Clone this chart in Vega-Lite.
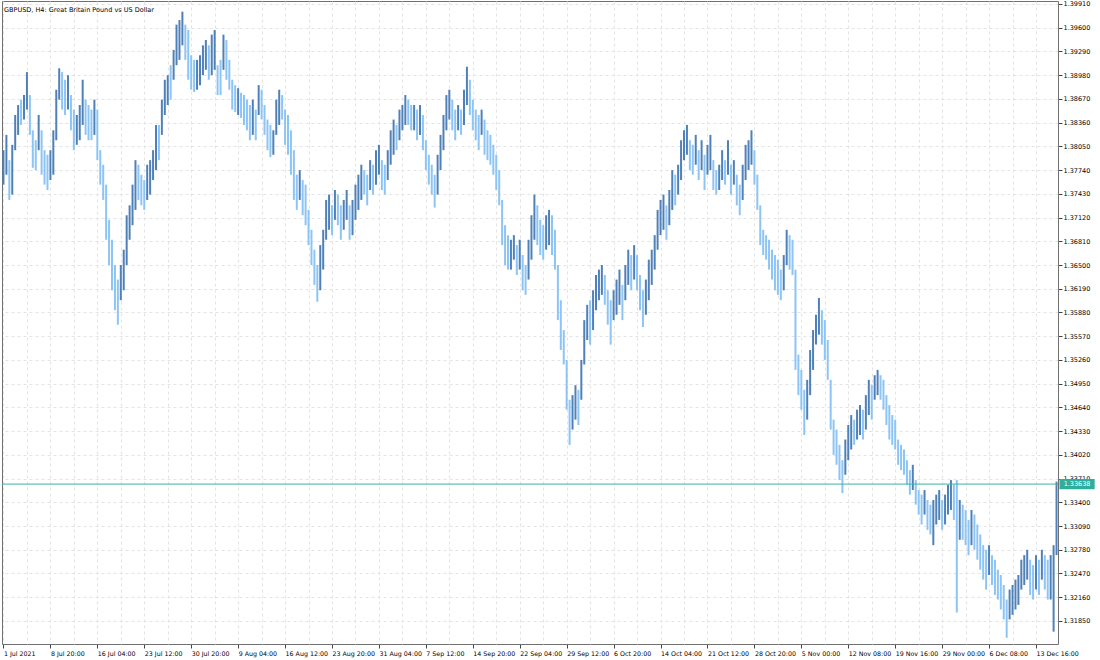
{
"$schema": "https://vega.github.io/schema/vega-lite/v6.json",
"width": 1056, "height": 643,
"autosize": {"type": "none"},
"padding": {"left": 2, "top": 1, "right": 42, "bottom": 16},
"background": "white",
"config": {"view": {"stroke": "#707070", "strokeWidth": 1}, "font": "DejaVu Sans", "axis": {"labelOverlap": false, "labelBound": false, "labelFlush": false}},
"title": {"text": "GBPUSD, H4:  Great Britain Pound vs US Dollar", "anchor": "start", "frame": "group", "orient": "top", "offset": -9, "dy": 10, "baseline": "bottom", "font": "DejaVu Sans", "fontSize": 6.5, "fontWeight": "normal", "color": "#000000", "dx": 2},
"datasets": {
"bars": [
{"i":0,"h":1.3800,"l":1.3755,"up":1},{"i":1,"h":1.3820,"l":1.3768,"up":1},{"i":2,"h":1.3787,"l":1.3735,"up":0},{"i":3,"h":1.3807,"l":1.3742,"up":1},{"i":4,"h":1.3846,"l":1.3800,"up":1},{"i":5,"h":1.3859,"l":1.3820,"up":1},{"i":6,"h":1.3866,"l":1.3833,"up":0},{"i":7,"h":1.3872,"l":1.3840,"up":1},{"i":8,"h":1.3902,"l":1.3853,"up":1},{"i":9,"h":1.3872,"l":1.3820,"up":0},
{"i":10,"h":1.3826,"l":1.3777,"up":0},{"i":11,"h":1.3813,"l":1.3774,"up":0},{"i":12,"h":1.3846,"l":1.3800,"up":1},{"i":13,"h":1.3826,"l":1.3768,"up":0},{"i":14,"h":1.3800,"l":1.3755,"up":0},{"i":15,"h":1.3794,"l":1.3748,"up":0},{"i":16,"h":1.3800,"l":1.3761,"up":1},{"i":17,"h":1.3826,"l":1.3768,"up":1},{"i":18,"h":1.3879,"l":1.3813,"up":1},{"i":19,"h":1.3907,"l":1.3866,"up":1},
{"i":20,"h":1.3902,"l":1.3853,"up":0},{"i":21,"h":1.3892,"l":1.3846,"up":0},{"i":22,"h":1.3898,"l":1.3853,"up":1},{"i":23,"h":1.3872,"l":1.3826,"up":0},{"i":24,"h":1.3853,"l":1.3800,"up":0},{"i":25,"h":1.3846,"l":1.3807,"up":1},{"i":26,"h":1.3859,"l":1.3813,"up":1},{"i":27,"h":1.3892,"l":1.3833,"up":1},{"i":28,"h":1.3866,"l":1.3820,"up":0},{"i":29,"h":1.3859,"l":1.3813,"up":0},
{"i":30,"h":1.3853,"l":1.3813,"up":0},{"i":31,"h":1.3866,"l":1.3820,"up":1},{"i":32,"h":1.3853,"l":1.3787,"up":0},{"i":33,"h":1.3800,"l":1.3755,"up":0},{"i":34,"h":1.3781,"l":1.3735,"up":0},{"i":35,"h":1.3755,"l":1.3683,"up":0},{"i":36,"h":1.3709,"l":1.3650,"up":0},{"i":37,"h":1.3683,"l":1.3617,"up":0},{"i":38,"h":1.3650,"l":1.3591,"up":0},{"i":39,"h":1.3631,"l":1.3572,"up":0},
{"i":40,"h":1.3650,"l":1.3604,"up":1},{"i":41,"h":1.3670,"l":1.3617,"up":1},{"i":42,"h":1.3715,"l":1.3650,"up":1},{"i":43,"h":1.3728,"l":1.3683,"up":1},{"i":44,"h":1.3755,"l":1.3702,"up":1},{"i":45,"h":1.3787,"l":1.3722,"up":1},{"i":46,"h":1.3781,"l":1.3735,"up":0},{"i":47,"h":1.3768,"l":1.3728,"up":0},{"i":48,"h":1.3761,"l":1.3722,"up":0},{"i":49,"h":1.3781,"l":1.3735,"up":1},
{"i":50,"h":1.3787,"l":1.3742,"up":1},{"i":51,"h":1.3800,"l":1.3761,"up":1},{"i":52,"h":1.3833,"l":1.3774,"up":1},{"i":53,"h":1.3833,"l":1.3787,"up":0},{"i":54,"h":1.3866,"l":1.3820,"up":1},{"i":55,"h":1.3892,"l":1.3846,"up":1},{"i":56,"h":1.3898,"l":1.3859,"up":1},{"i":57,"h":1.3911,"l":1.3866,"up":0},{"i":58,"h":1.3931,"l":1.3892,"up":1},{"i":59,"h":1.3964,"l":1.3911,"up":1},
{"i":60,"h":1.3970,"l":1.3918,"up":1},{"i":61,"h":1.3981,"l":1.3937,"up":1},{"i":62,"h":1.3964,"l":1.3918,"up":0},{"i":63,"h":1.3957,"l":1.3892,"up":0},{"i":64,"h":1.3924,"l":1.3879,"up":0},{"i":65,"h":1.3918,"l":1.3876,"up":0},{"i":66,"h":1.3918,"l":1.3879,"up":1},{"i":67,"h":1.3924,"l":1.3885,"up":1},{"i":68,"h":1.3937,"l":1.3898,"up":1},{"i":69,"h":1.3944,"l":1.3905,"up":1},
{"i":70,"h":1.3937,"l":1.3892,"up":0},{"i":71,"h":1.3951,"l":1.3898,"up":1},{"i":72,"h":1.3957,"l":1.3905,"up":1},{"i":73,"h":1.3911,"l":1.3872,"up":0},{"i":74,"h":1.3918,"l":1.3872,"up":0},{"i":75,"h":1.3951,"l":1.3905,"up":1},{"i":76,"h":1.3944,"l":1.3892,"up":0},{"i":77,"h":1.3918,"l":1.3879,"up":0},{"i":78,"h":1.3892,"l":1.3853,"up":0},{"i":79,"h":1.3885,"l":1.3850,"up":0},
{"i":80,"h":1.3881,"l":1.3846,"up":1},{"i":81,"h":1.3875,"l":1.3842,"up":0},{"i":82,"h":1.3872,"l":1.3833,"up":0},{"i":83,"h":1.3866,"l":1.3826,"up":0},{"i":84,"h":1.3859,"l":1.3813,"up":0},{"i":85,"h":1.3866,"l":1.3820,"up":1},{"i":86,"h":1.3853,"l":1.3813,"up":0},{"i":87,"h":1.3885,"l":1.3846,"up":1},{"i":88,"h":1.3879,"l":1.3840,"up":0},{"i":89,"h":1.3859,"l":1.3820,"up":0},
{"i":90,"h":1.3840,"l":1.3800,"up":0},{"i":91,"h":1.3833,"l":1.3791,"up":0},{"i":92,"h":1.3826,"l":1.3794,"up":1},{"i":93,"h":1.3866,"l":1.3820,"up":1},{"i":94,"h":1.3879,"l":1.3833,"up":1},{"i":95,"h":1.3872,"l":1.3840,"up":0},{"i":96,"h":1.3853,"l":1.3807,"up":0},{"i":97,"h":1.3846,"l":1.3794,"up":0},{"i":98,"h":1.3826,"l":1.3768,"up":0},{"i":99,"h":1.3800,"l":1.3735,"up":0},
{"i":100,"h":1.3768,"l":1.3722,"up":0},{"i":101,"h":1.3774,"l":1.3735,"up":1},{"i":102,"h":1.3761,"l":1.3715,"up":0},{"i":103,"h":1.3755,"l":1.3702,"up":0},{"i":104,"h":1.3722,"l":1.3676,"up":0},{"i":105,"h":1.3696,"l":1.3650,"up":0},{"i":106,"h":1.3670,"l":1.3624,"up":0},{"i":107,"h":1.3650,"l":1.3602,"up":0},{"i":108,"h":1.3676,"l":1.3617,"up":1},{"i":109,"h":1.3696,"l":1.3644,"up":1},
{"i":110,"h":1.3735,"l":1.3683,"up":1},{"i":111,"h":1.3742,"l":1.3696,"up":1},{"i":112,"h":1.3728,"l":1.3689,"up":0},{"i":113,"h":1.3748,"l":1.3709,"up":1},{"i":114,"h":1.3742,"l":1.3702,"up":0},{"i":115,"h":1.3728,"l":1.3683,"up":0},{"i":116,"h":1.3735,"l":1.3696,"up":1},{"i":117,"h":1.3748,"l":1.3709,"up":1},{"i":118,"h":1.3728,"l":1.3683,"up":0},{"i":119,"h":1.3735,"l":1.3689,"up":1},
{"i":120,"h":1.3755,"l":1.3709,"up":1},{"i":121,"h":1.3768,"l":1.3722,"up":1},{"i":122,"h":1.3781,"l":1.3735,"up":1},{"i":123,"h":1.3774,"l":1.3742,"up":0},{"i":124,"h":1.3768,"l":1.3728,"up":0},{"i":125,"h":1.3787,"l":1.3748,"up":1},{"i":126,"h":1.3781,"l":1.3742,"up":0},{"i":127,"h":1.3800,"l":1.3755,"up":1},{"i":128,"h":1.3807,"l":1.3768,"up":1},{"i":129,"h":1.3787,"l":1.3748,"up":0},
{"i":130,"h":1.3781,"l":1.3742,"up":0},{"i":131,"h":1.3800,"l":1.3761,"up":1},{"i":132,"h":1.3826,"l":1.3781,"up":1},{"i":133,"h":1.3840,"l":1.3794,"up":1},{"i":134,"h":1.3833,"l":1.3800,"up":0},{"i":135,"h":1.3853,"l":1.3813,"up":1},{"i":136,"h":1.3859,"l":1.3826,"up":1},{"i":137,"h":1.3872,"l":1.3833,"up":1},{"i":138,"h":1.3866,"l":1.3833,"up":0},{"i":139,"h":1.3859,"l":1.3826,"up":0},
{"i":140,"h":1.3859,"l":1.3826,"up":1},{"i":141,"h":1.3853,"l":1.3813,"up":0},{"i":142,"h":1.3859,"l":1.3820,"up":1},{"i":143,"h":1.3846,"l":1.3800,"up":0},{"i":144,"h":1.3813,"l":1.3774,"up":0},{"i":145,"h":1.3794,"l":1.3755,"up":0},{"i":146,"h":1.3781,"l":1.3742,"up":0},{"i":147,"h":1.3768,"l":1.3725,"up":0},{"i":148,"h":1.3794,"l":1.3742,"up":1},{"i":149,"h":1.3820,"l":1.3774,"up":1},
{"i":150,"h":1.3846,"l":1.3800,"up":1},{"i":151,"h":1.3872,"l":1.3826,"up":1},{"i":152,"h":1.3879,"l":1.3840,"up":1},{"i":153,"h":1.3866,"l":1.3826,"up":0},{"i":154,"h":1.3853,"l":1.3813,"up":0},{"i":155,"h":1.3859,"l":1.3826,"up":1},{"i":156,"h":1.3853,"l":1.3820,"up":0},{"i":157,"h":1.3879,"l":1.3833,"up":1},{"i":158,"h":1.3909,"l":1.3859,"up":1},{"i":159,"h":1.3892,"l":1.3846,"up":0},
{"i":160,"h":1.3866,"l":1.3826,"up":0},{"i":161,"h":1.3853,"l":1.3813,"up":0},{"i":162,"h":1.3846,"l":1.3800,"up":0},{"i":163,"h":1.3853,"l":1.3820,"up":1},{"i":164,"h":1.3840,"l":1.3794,"up":0},{"i":165,"h":1.3826,"l":1.3787,"up":0},{"i":166,"h":1.3820,"l":1.3781,"up":0},{"i":167,"h":1.3807,"l":1.3768,"up":0},{"i":168,"h":1.3794,"l":1.3748,"up":0},{"i":169,"h":1.3774,"l":1.3728,"up":0},
{"i":170,"h":1.3735,"l":1.3676,"up":0},{"i":171,"h":1.3702,"l":1.3650,"up":0},{"i":172,"h":1.3689,"l":1.3644,"up":0},{"i":173,"h":1.3683,"l":1.3644,"up":1},{"i":174,"h":1.3689,"l":1.3657,"up":1},{"i":175,"h":1.3676,"l":1.3637,"up":0},{"i":176,"h":1.3683,"l":1.3644,"up":1},{"i":177,"h":1.3663,"l":1.3617,"up":0},{"i":178,"h":1.3650,"l":1.3611,"up":0},{"i":179,"h":1.3683,"l":1.3631,"up":1},
{"i":180,"h":1.3715,"l":1.3657,"up":1},{"i":181,"h":1.3742,"l":1.3683,"up":1},{"i":182,"h":1.3728,"l":1.3676,"up":0},{"i":183,"h":1.3709,"l":1.3663,"up":0},{"i":184,"h":1.3702,"l":1.3657,"up":0},{"i":185,"h":1.3715,"l":1.3670,"up":1},{"i":186,"h":1.3722,"l":1.3676,"up":1},{"i":187,"h":1.3715,"l":1.3663,"up":0},{"i":188,"h":1.3696,"l":1.3644,"up":0},{"i":189,"h":1.3650,"l":1.3578,"up":0},
{"i":190,"h":1.3604,"l":1.3539,"up":0},{"i":191,"h":1.3565,"l":1.3520,"up":0},{"i":192,"h":1.3526,"l":1.3461,"up":0},{"i":193,"h":1.3474,"l":1.3415,"up":0},{"i":194,"h":1.3480,"l":1.3435,"up":1},{"i":195,"h":1.3493,"l":1.3448,"up":1},{"i":196,"h":1.3487,"l":1.3441,"up":0},{"i":197,"h":1.3526,"l":1.3474,"up":1},{"i":198,"h":1.3578,"l":1.3520,"up":1},{"i":199,"h":1.3598,"l":1.3552,"up":1},
{"i":200,"h":1.3604,"l":1.3546,"up":0},{"i":201,"h":1.3617,"l":1.3565,"up":1},{"i":202,"h":1.3637,"l":1.3591,"up":1},{"i":203,"h":1.3644,"l":1.3604,"up":1},{"i":204,"h":1.3650,"l":1.3611,"up":1},{"i":205,"h":1.3637,"l":1.3598,"up":0},{"i":206,"h":1.3617,"l":1.3572,"up":0},{"i":207,"h":1.3604,"l":1.3546,"up":0},{"i":208,"h":1.3617,"l":1.3578,"up":1},{"i":209,"h":1.3631,"l":1.3585,"up":1},
{"i":210,"h":1.3644,"l":1.3598,"up":1},{"i":211,"h":1.3624,"l":1.3578,"up":0},{"i":212,"h":1.3650,"l":1.3604,"up":1},{"i":213,"h":1.3670,"l":1.3624,"up":1},{"i":214,"h":1.3663,"l":1.3617,"up":0},{"i":215,"h":1.3676,"l":1.3631,"up":1},{"i":216,"h":1.3663,"l":1.3617,"up":0},{"i":217,"h":1.3637,"l":1.3591,"up":0},{"i":218,"h":1.3617,"l":1.3569,"up":0},{"i":219,"h":1.3631,"l":1.3585,"up":1},
{"i":220,"h":1.3657,"l":1.3604,"up":1},{"i":221,"h":1.3670,"l":1.3624,"up":1},{"i":222,"h":1.3689,"l":1.3644,"up":1},{"i":223,"h":1.3722,"l":1.3670,"up":1},{"i":224,"h":1.3735,"l":1.3689,"up":1},{"i":225,"h":1.3742,"l":1.3696,"up":1},{"i":226,"h":1.3728,"l":1.3683,"up":0},{"i":227,"h":1.3748,"l":1.3702,"up":1},{"i":228,"h":1.3774,"l":1.3722,"up":1},{"i":229,"h":1.3768,"l":1.3728,"up":0},
{"i":230,"h":1.3781,"l":1.3742,"up":1},{"i":231,"h":1.3813,"l":1.3761,"up":1},{"i":232,"h":1.3826,"l":1.3787,"up":1},{"i":233,"h":1.3833,"l":1.3794,"up":1},{"i":234,"h":1.3813,"l":1.3774,"up":0},{"i":235,"h":1.3807,"l":1.3768,"up":0},{"i":236,"h":1.3820,"l":1.3781,"up":1},{"i":237,"h":1.3800,"l":1.3761,"up":0},{"i":238,"h":1.3813,"l":1.3774,"up":1},{"i":239,"h":1.3794,"l":1.3748,"up":0},
{"i":240,"h":1.3807,"l":1.3768,"up":1},{"i":241,"h":1.3820,"l":1.3774,"up":1},{"i":242,"h":1.3787,"l":1.3748,"up":0},{"i":243,"h":1.3774,"l":1.3742,"up":0},{"i":244,"h":1.3781,"l":1.3748,"up":1},{"i":245,"h":1.3800,"l":1.3761,"up":1},{"i":246,"h":1.3787,"l":1.3755,"up":0},{"i":247,"h":1.3813,"l":1.3768,"up":1},{"i":248,"h":1.3781,"l":1.3742,"up":0},{"i":249,"h":1.3787,"l":1.3755,"up":1},
{"i":250,"h":1.3768,"l":1.3728,"up":0},{"i":251,"h":1.3755,"l":1.3715,"up":0},{"i":252,"h":1.3781,"l":1.3735,"up":1},{"i":253,"h":1.3807,"l":1.3761,"up":1},{"i":254,"h":1.3813,"l":1.3774,"up":1},{"i":255,"h":1.3826,"l":1.3781,"up":1},{"i":256,"h":1.3800,"l":1.3755,"up":0},{"i":257,"h":1.3768,"l":1.3722,"up":0},{"i":258,"h":1.3728,"l":1.3676,"up":0},{"i":259,"h":1.3696,"l":1.3663,"up":0},
{"i":260,"h":1.3689,"l":1.3657,"up":0},{"i":261,"h":1.3683,"l":1.3644,"up":0},{"i":262,"h":1.3670,"l":1.3631,"up":0},{"i":263,"h":1.3663,"l":1.3617,"up":0},{"i":264,"h":1.3657,"l":1.3611,"up":0},{"i":265,"h":1.3644,"l":1.3604,"up":0},{"i":266,"h":1.3663,"l":1.3617,"up":1},{"i":267,"h":1.3696,"l":1.3650,"up":1},{"i":268,"h":1.3689,"l":1.3644,"up":0},{"i":269,"h":1.3683,"l":1.3637,"up":0},
{"i":270,"h":1.3644,"l":1.3513,"up":0},{"i":271,"h":1.3533,"l":1.3480,"up":0},{"i":272,"h":1.3513,"l":1.3461,"up":0},{"i":273,"h":1.3487,"l":1.3428,"up":0},{"i":274,"h":1.3500,"l":1.3448,"up":1},{"i":275,"h":1.3539,"l":1.3480,"up":1},{"i":276,"h":1.3565,"l":1.3513,"up":1},{"i":277,"h":1.3585,"l":1.3546,"up":1},{"i":278,"h":1.3607,"l":1.3559,"up":1},{"i":279,"h":1.3591,"l":1.3546,"up":0},
{"i":280,"h":1.3578,"l":1.3526,"up":0},{"i":281,"h":1.3552,"l":1.3500,"up":0},{"i":282,"h":1.3500,"l":1.3435,"up":0},{"i":283,"h":1.3448,"l":1.3402,"up":0},{"i":284,"h":1.3435,"l":1.3389,"up":0},{"i":285,"h":1.3415,"l":1.3369,"up":0},{"i":286,"h":1.3395,"l":1.3352,"up":0},{"i":287,"h":1.3422,"l":1.3376,"up":1},{"i":288,"h":1.3441,"l":1.3395,"up":1},{"i":289,"h":1.3454,"l":1.3409,"up":1},
{"i":290,"h":1.3448,"l":1.3415,"up":0},{"i":291,"h":1.3461,"l":1.3422,"up":1},{"i":292,"h":1.3467,"l":1.3428,"up":1},{"i":293,"h":1.3461,"l":1.3422,"up":0},{"i":294,"h":1.3480,"l":1.3435,"up":1},{"i":295,"h":1.3500,"l":1.3454,"up":1},{"i":296,"h":1.3493,"l":1.3448,"up":0},{"i":297,"h":1.3506,"l":1.3474,"up":1},{"i":298,"h":1.3513,"l":1.3480,"up":1},{"i":299,"h":1.3506,"l":1.3474,"up":0},
{"i":300,"h":1.3500,"l":1.3461,"up":0},{"i":301,"h":1.3480,"l":1.3441,"up":0},{"i":302,"h":1.3467,"l":1.3422,"up":0},{"i":303,"h":1.3454,"l":1.3415,"up":0},{"i":304,"h":1.3448,"l":1.3409,"up":0},{"i":305,"h":1.3422,"l":1.3389,"up":0},{"i":306,"h":1.3415,"l":1.3382,"up":0},{"i":307,"h":1.3409,"l":1.3376,"up":0},{"i":308,"h":1.3395,"l":1.3363,"up":0},{"i":309,"h":1.3382,"l":1.3350,"up":0},
{"i":310,"h":1.3389,"l":1.3356,"up":1},{"i":311,"h":1.3369,"l":1.3337,"up":0},{"i":312,"h":1.3356,"l":1.3324,"up":0},{"i":313,"h":1.3350,"l":1.3311,"up":0},{"i":314,"h":1.3356,"l":1.3324,"up":1},{"i":315,"h":1.3343,"l":1.3304,"up":0},{"i":316,"h":1.3337,"l":1.3298,"up":0},{"i":317,"h":1.3343,"l":1.3284,"up":1},{"i":318,"h":1.3350,"l":1.3311,"up":1},{"i":319,"h":1.3356,"l":1.3317,"up":1},
{"i":320,"h":1.3343,"l":1.3304,"up":0},{"i":321,"h":1.3350,"l":1.3311,"up":1},{"i":322,"h":1.3363,"l":1.3324,"up":1},{"i":323,"h":1.3369,"l":1.3330,"up":1},{"i":324,"h":1.3363,"l":1.3317,"up":0},{"i":325,"h":1.3369,"l":1.3196,"up":0},{"i":326,"h":1.3343,"l":1.3291,"up":1},{"i":327,"h":1.3337,"l":1.3291,"up":0},{"i":328,"h":1.3330,"l":1.3284,"up":0},{"i":329,"h":1.3317,"l":1.3271,"up":0},
{"i":330,"h":1.3330,"l":1.3284,"up":1},{"i":331,"h":1.3324,"l":1.3278,"up":0},{"i":332,"h":1.3311,"l":1.3265,"up":0},{"i":333,"h":1.3298,"l":1.3252,"up":0},{"i":334,"h":1.3284,"l":1.3239,"up":0},{"i":335,"h":1.3278,"l":1.3226,"up":0},{"i":336,"h":1.3284,"l":1.3245,"up":1},{"i":337,"h":1.3271,"l":1.3232,"up":0},{"i":338,"h":1.3265,"l":1.3219,"up":0},{"i":339,"h":1.3252,"l":1.3213,"up":0},
{"i":340,"h":1.3245,"l":1.3200,"up":0},{"i":341,"h":1.3232,"l":1.3187,"up":0},{"i":342,"h":1.3213,"l":1.3163,"up":0},{"i":343,"h":1.3226,"l":1.3187,"up":1},{"i":344,"h":1.3232,"l":1.3193,"up":1},{"i":345,"h":1.3239,"l":1.3200,"up":1},{"i":346,"h":1.3245,"l":1.3206,"up":1},{"i":347,"h":1.3265,"l":1.3226,"up":1},{"i":348,"h":1.3271,"l":1.3232,"up":1},{"i":349,"h":1.3278,"l":1.3239,"up":1},
{"i":350,"h":1.3265,"l":1.3219,"up":0},{"i":351,"h":1.3258,"l":1.3213,"up":0},{"i":352,"h":1.3271,"l":1.3226,"up":1},{"i":353,"h":1.3265,"l":1.3219,"up":0},{"i":354,"h":1.3278,"l":1.3239,"up":1},{"i":355,"h":1.3271,"l":1.3226,"up":0},{"i":356,"h":1.3265,"l":1.3213,"up":0},{"i":357,"h":1.3271,"l":1.3213,"up":1},{"i":358,"h":1.3284,"l":1.3171,"up":1},{"i":359,"h":1.3367,"l":1.3271,"up":1}
],
"last": [{"price": 1.33638, "label": "1.33638"}]
},
"layer": [
{
"data": {"name": "bars"},
"mark": {"type": "rule", "strokeWidth": 2},
"encoding": {
"x": {"field": "i", "type": "quantitative",
"scale": {"domain": [-0.5, 359.5], "nice": false, "zero": false},
"axis": {"values": [0,8,16,24,32,40,48,56,64,72,80,88,96,104,112,120,128,136,144,152,160,168,176,184,192,200,208,216,224,232,240,248,256,264,272,280,288,296,304,312,320,328,336,344,352],
"title": null, "domain": false, "grid": true, "gridColor": "#e3e3e3", "gridDash": [3, 3], "gridWidth": 1,
"ticks": true, "tickColor": "#444444", "tickSize": 4, "tickOpacity": {"condition": {"test": "datum.value % 16 == 0", "value": 1}, "value": 0},
"labelExpr": "datum.value % 16 == 0 ? ['1 Jul 2021','8 Jul 20:00','16 Jul 04:00','23 Jul 12:00','30 Jul 20:00','9 Aug 04:00','16 Aug 12:00','23 Aug 20:00','31 Aug 04:00','7 Sep 12:00','14 Sep 20:00','22 Sep 04:00','29 Sep 12:00','6 Oct 20:00','14 Oct 04:00','21 Oct 12:00','28 Oct 20:00','5 Nov 00:00','12 Nov 08:00','19 Nov 16:00','29 Nov 00:00','6 Dec 08:00','13 Dec 16:00'][datum.value / 16] : ''",
"labelAlign": "left", "labelBaseline": "top", "labelPadding": 2, "labelFont": "DejaVu Sans", "labelFontSize": 6.3, "labelColor": "#000000", "labelOverlap": false, "labelFlush": false, "labelBound": false}},
"y": {"field": "l", "type": "quantitative",
"scale": {"domain": [1.31549, 1.39949], "nice": false, "zero": false},
"axis": {"orient": "right", "values": [1.3185,1.3216,1.3247,1.3278,1.3309,1.334,1.3371,1.3402,1.3433,1.3464,1.3495,1.3526,1.3557,1.3588,1.3619,1.365,1.3681,1.3712,1.3743,1.3774,1.3805,1.3836,1.3867,1.3898,1.3929,1.396,1.3991],
"format": ".5f", "title": null, "domain": false, "grid": true, "gridColor": "#e3e3e3", "gridDash": [3, 3], "gridWidth": 1,
"tickColor": "#444444", "tickSize": 4, "labelAlign": "left", "labelBaseline": "middle", "labelPadding": 1, "labelFont": "DejaVu Sans", "labelFontSize": 6.5, "labelColor": "#000000", "labelOverlap": false, "labelFlush": false, "labelBound": false}},
"y2": {"field": "h"},
"color": {"field": "up", "type": "nominal", "scale": {"domain": [0, 1], "range": ["#8cc4f5", "#4f80b8"]}, "legend": null}
}
},
{
"data": {"name": "last"},
"mark": {"type": "rule", "color": "#3cb3a4", "strokeWidth": 1},
"encoding": {"y": {"field": "price", "type": "quantitative",
"axis": {"orient": "right", "values": [1.3185,1.3216,1.3247,1.3278,1.3309,1.334,1.3371,1.3402,1.3433,1.3464,1.3495,1.3526,1.3557,1.3588,1.3619,1.365,1.3681,1.3712,1.3743,1.3774,1.3805,1.3836,1.3867,1.3898,1.3929,1.396,1.3991],
"format": ".5f", "title": null, "domain": false, "grid": true, "gridColor": "#e3e3e3", "gridDash": [3, 3], "gridWidth": 1,
"tickColor": "#444444", "tickSize": 4, "labelAlign": "left", "labelBaseline": "middle", "labelPadding": 1, "labelFont": "DejaVu Sans", "labelFontSize": 6.5, "labelColor": "#000000", "labelOverlap": false, "labelFlush": false, "labelBound": false}}}
},
{
"data": {"name": "last"},
"mark": {"type": "rect", "color": "#2fae9d", "clip": false},
"encoding": {
"x": {"datum": 360, "type": "quantitative",
"axis": {"values": [0,8,16,24,32,40,48,56,64,72,80,88,96,104,112,120,128,136,144,152,160,168,176,184,192,200,208,216,224,232,240,248,256,264,272,280,288,296,304,312,320,328,336,344,352],
"title": null, "domain": false, "grid": true, "gridColor": "#e3e3e3", "gridDash": [3, 3], "gridWidth": 1,
"ticks": true, "tickColor": "#444444", "tickSize": 4, "tickOpacity": {"condition": {"test": "datum.value % 16 == 0", "value": 1}, "value": 0},
"labelExpr": "datum.value % 16 == 0 ? ['1 Jul 2021','8 Jul 20:00','16 Jul 04:00','23 Jul 12:00','30 Jul 20:00','9 Aug 04:00','16 Aug 12:00','23 Aug 20:00','31 Aug 04:00','7 Sep 12:00','14 Sep 20:00','22 Sep 04:00','29 Sep 12:00','6 Oct 20:00','14 Oct 04:00','21 Oct 12:00','28 Oct 20:00','5 Nov 00:00','12 Nov 08:00','19 Nov 16:00','29 Nov 00:00','6 Dec 08:00','13 Dec 16:00'][datum.value / 16] : ''",
"labelAlign": "left", "labelBaseline": "top", "labelPadding": 2, "labelFont": "DejaVu Sans", "labelFontSize": 6.3, "labelColor": "#000000", "labelOverlap": false, "labelFlush": false, "labelBound": false}},
"x2": {"datum": 372},
"y": {"datum": 1.33706, "type": "quantitative",
"axis": {"orient": "right", "values": [1.3185,1.3216,1.3247,1.3278,1.3309,1.334,1.3371,1.3402,1.3433,1.3464,1.3495,1.3526,1.3557,1.3588,1.3619,1.365,1.3681,1.3712,1.3743,1.3774,1.3805,1.3836,1.3867,1.3898,1.3929,1.396,1.3991],
"format": ".5f", "title": null, "domain": false, "grid": true, "gridColor": "#e3e3e3", "gridDash": [3, 3], "gridWidth": 1,
"tickColor": "#444444", "tickSize": 4, "labelAlign": "left", "labelBaseline": "middle", "labelPadding": 1, "labelFont": "DejaVu Sans", "labelFontSize": 6.5, "labelColor": "#000000", "labelOverlap": false, "labelFlush": false, "labelBound": false}},
"y2": {"datum": 1.3357}
}
},
{
"data": {"name": "last"},
"mark": {"type": "text", "color": "#ffffff", "font": "DejaVu Sans", "fontSize": 6.5, "align": "center", "baseline": "middle", "clip": false},
"encoding": {
"x": {"datum": 366, "type": "quantitative",
"axis": {"values": [0,8,16,24,32,40,48,56,64,72,80,88,96,104,112,120,128,136,144,152,160,168,176,184,192,200,208,216,224,232,240,248,256,264,272,280,288,296,304,312,320,328,336,344,352],
"title": null, "domain": false, "grid": true, "gridColor": "#e3e3e3", "gridDash": [3, 3], "gridWidth": 1,
"ticks": true, "tickColor": "#444444", "tickSize": 4, "tickOpacity": {"condition": {"test": "datum.value % 16 == 0", "value": 1}, "value": 0},
"labelExpr": "datum.value % 16 == 0 ? ['1 Jul 2021','8 Jul 20:00','16 Jul 04:00','23 Jul 12:00','30 Jul 20:00','9 Aug 04:00','16 Aug 12:00','23 Aug 20:00','31 Aug 04:00','7 Sep 12:00','14 Sep 20:00','22 Sep 04:00','29 Sep 12:00','6 Oct 20:00','14 Oct 04:00','21 Oct 12:00','28 Oct 20:00','5 Nov 00:00','12 Nov 08:00','19 Nov 16:00','29 Nov 00:00','6 Dec 08:00','13 Dec 16:00'][datum.value / 16] : ''",
"labelAlign": "left", "labelBaseline": "top", "labelPadding": 2, "labelFont": "DejaVu Sans", "labelFontSize": 6.3, "labelColor": "#000000", "labelOverlap": false, "labelFlush": false, "labelBound": false}},
"y": {"field": "price", "type": "quantitative",
"axis": {"orient": "right", "values": [1.3185,1.3216,1.3247,1.3278,1.3309,1.334,1.3371,1.3402,1.3433,1.3464,1.3495,1.3526,1.3557,1.3588,1.3619,1.365,1.3681,1.3712,1.3743,1.3774,1.3805,1.3836,1.3867,1.3898,1.3929,1.396,1.3991],
"format": ".5f", "title": null, "domain": false, "grid": true, "gridColor": "#e3e3e3", "gridDash": [3, 3], "gridWidth": 1,
"tickColor": "#444444", "tickSize": 4, "labelAlign": "left", "labelBaseline": "middle", "labelPadding": 1, "labelFont": "DejaVu Sans", "labelFontSize": 6.5, "labelColor": "#000000", "labelOverlap": false, "labelFlush": false, "labelBound": false}},
"text": {"field": "label"}
}
}
]
}
